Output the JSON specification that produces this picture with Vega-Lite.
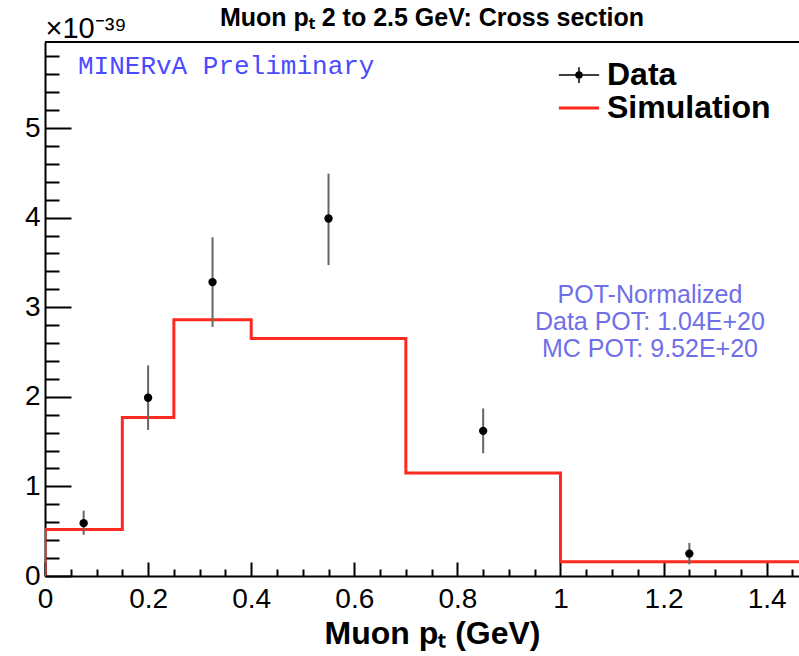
{
  "$schema": "https://vega.github.io/schema/vega-lite/v6.json",
  "width": 754,
  "height": 534,
  "autosize": {"type": "none"},
  "padding": {"left": 45, "top": 42, "right": 0, "bottom": 80},
  "background": "white",
  "title": {
    "text": "Muon pₜ 2 to 2.5 GeV: Cross section",
    "font": "Liberation Sans",
    "fontSize": 25,
    "fontWeight": "bold",
    "color": "black",
    "anchor": "middle",
    "frame": "group",
    "dx": 10,
    "offset": -17
  },
  "config": {
    "view": {"stroke": null},
    "axis": {
      "grid": false,
      "domainColor": "black",
      "domainWidth": 2,
      "tickColor": "black",
      "tickWidth": 2,
      "tickCount": 1000,
      "labelFont": "Liberation Sans",
      "labelFontSize": 28,
      "labelColor": "black",
      "labelFlush": false,
      "labelOverlap": false,
      "labelBound": false
    }
  },
  "datasets": {
    "hist": [
      {"i": 0, "pt": 0, "xsec": 0, "series": "Simulation"},
      {"i": 1, "pt": 0, "xsec": 0.52, "series": "Simulation"},
      {"i": 2, "pt": 0.15, "xsec": 1.77, "series": "Simulation"},
      {"i": 3, "pt": 0.25, "xsec": 2.86, "series": "Simulation"},
      {"i": 4, "pt": 0.4, "xsec": 2.65, "series": "Simulation"},
      {"i": 5, "pt": 0.7, "xsec": 1.15, "series": "Simulation"},
      {"i": 6, "pt": 1.0, "xsec": 0.16, "series": "Simulation"},
      {"i": 7, "pt": 1.5, "xsec": 0.16, "series": "Simulation"}
    ],
    "points": [
      {"pt": 0.075, "xsec": 0.59, "lo": 0.46, "hi": 0.73, "series": "Data"},
      {"pt": 0.2, "xsec": 1.99, "lo": 1.63, "hi": 2.35, "series": "Data"},
      {"pt": 0.325, "xsec": 3.28, "lo": 2.78, "hi": 3.78, "series": "Data"},
      {"pt": 0.55, "xsec": 3.99, "lo": 3.47, "hi": 4.49, "series": "Data"},
      {"pt": 0.85, "xsec": 1.62, "lo": 1.37, "hi": 1.87, "series": "Data"},
      {"pt": 1.25, "xsec": 0.25, "lo": 0.13, "hi": 0.37, "series": "Data"}
    ],
    "frame": [
      {"edge": "top"}
    ],
    "tag": [
      {"label": "MINERvA Preliminary"}
    ],
    "pot": [
      {"label": "POT-Normalized\nData POT: 1.04E+20\nMC POT: 9.52E+20"}
    ]
  },
  "layer": [
    {
      "data": {"name": "hist"},
      "mark": {"type": "line", "interpolate": "step-after", "strokeWidth": 3, "clip": true},
      "encoding": {
        "x": {
          "field": "pt",
          "type": "quantitative",
          "scale": {"domain": [0, 1.4627], "nice": false, "zero": false},
          "axis": {
            "values": [0,0.05,0.1,0.15,0.2,0.25,0.3,0.35,0.4,0.45,0.5,0.55,0.6,0.65,0.7,0.75,0.8,0.85,0.9,0.95,1.0,1.05,1.1,1.15,1.2,1.25,1.3,1.35,1.4,1.45],
            "tickCount": 1000,
            "tickSize": {"condition": {"test": "abs(datum.value/0.2 - round(datum.value/0.2)) < 0.001", "value": -14}, "value": -7},
            "labelExpr": "abs(datum.value/0.2 - round(datum.value/0.2)) < 0.001 ? format(datum.value, '.2~f') : ''",
            "labelPadding": 23,
            "title": "Muon pₜ  (GeV)",
            "titleFont": "Liberation Sans",
            "titleFontSize": 32,
            "titleFontWeight": "bold",
            "titleColor": "black",
            "titleAlign": "center",
            "titleBaseline": "alphabetic",
            "titleX": 387,
            "titleY": 67
          }
        },
        "y": {
          "field": "xsec",
          "type": "quantitative",
          "scale": {"domain": [0, 5.96], "nice": false},
          "axis": {
            "values": [0,0.2,0.4,0.6,0.8,1,1.2,1.4,1.6,1.8,2,2.2,2.4,2.6,2.8,3,3.2,3.4,3.6,3.8,4,4.2,4.4,4.6,4.8,5,5.2,5.4,5.6,5.8],
            "tickCount": 1000,
            "tickSize": {"condition": {"test": "abs(datum.value - round(datum.value)) < 0.001", "value": -26}, "value": -14},
            "labelExpr": "abs(datum.value - round(datum.value)) < 0.001 ? format(datum.value, 'd') : ''",
            "labelPadding": 31,
            "title": "×10⁻³⁹",
            "titleFont": "Liberation Sans",
            "titleFontSize": 29,
            "titleFontWeight": "normal",
            "titleColor": "black",
            "titleAngle": 0,
            "titleAlign": "left",
            "titleBaseline": "alphabetic",
            "titleX": 0,
            "titleY": -5
          }
        },
        "order": {"field": "i", "type": "quantitative"},
        "color": {
          "field": "series",
          "type": "nominal",
          "scale": {"domain": ["Data", "Simulation"], "range": ["black", "#ff2a1f"]},
          "legend": {
            "orient": "none",
            "legendX": 518,
            "legendY": 17,
            "title": null,
            "padding": 0,
            "labelFont": "Liberation Sans",
            "labelFontSize": 32,
            "labelFontWeight": "bold",
            "labelColor": "black",
            "labelOffset": 12,
            "labelLimit": 400,
            "symbolSize": 1225,
            "rowPadding": 1,
            "encode": {
              "symbols": {
                "update": {
                  "shape": {"signal": "datum.value === 'Data' ? 'M-1.15,0H1.15M0,-0.45V0.45M0.17,0A0.17,0.17 0 1 1 -0.17,0A0.17,0.17 0 1 1 0.17,0Z' : 'M-1.15,0H1.15'"},
                  "stroke": {"signal": "datum.value === 'Data' ? 'black' : '#ff6060'"},
                  "fill": {"signal": "datum.value === 'Data' ? 'black' : 'transparent'"},
                  "strokeWidth": {"signal": "datum.value === 'Data' ? 1.5 : 3"},
                  "opacity": {"value": 1}
                }
              }
            }
          }
        }
      }
    },
    {
      "data": {"name": "points"},
      "mark": {"type": "rule", "color": "#666666", "strokeWidth": 2},
      "encoding": {
        "x": {"field": "pt", "type": "quantitative"},
        "y": {"field": "lo", "type": "quantitative"},
        "y2": {"field": "hi"}
      }
    },
    {
      "data": {"name": "points"},
      "mark": {"type": "point", "filled": true, "shape": "circle", "size": 70, "opacity": 1},
      "encoding": {
        "x": {"field": "pt", "type": "quantitative"},
        "y": {"field": "xsec", "type": "quantitative"},
        "color": {"field": "series", "type": "nominal"}
      }
    },
    {
      "data": {"name": "frame"},
      "mark": {"type": "rule", "color": "black", "strokeWidth": 2, "clip": false},
      "encoding": {
        "y": {"datum": 5.96, "type": "quantitative"}
      }
    },
    {
      "data": {"name": "tag"},
      "mark": {"type": "text", "font": "Liberation Mono", "fontSize": 26, "color": "#4a4aff", "align": "left", "baseline": "middle"},
      "encoding": {
        "x": {"datum": 0.064, "type": "quantitative"},
        "y": {"datum": 5.69, "type": "quantitative"},
        "text": {"field": "label"}
      }
    },
    {
      "data": {"name": "pot"},
      "mark": {"type": "text", "font": "Liberation Sans", "fontSize": 25, "color": "#6f6fe8", "align": "center", "baseline": "middle", "lineBreak": "\n", "lineHeight": 27},
      "encoding": {
        "x": {"datum": 1.1735, "type": "quantitative"},
        "y": {"datum": 3.14, "type": "quantitative"},
        "text": {"field": "label"}
      }
    }
  ]
}
